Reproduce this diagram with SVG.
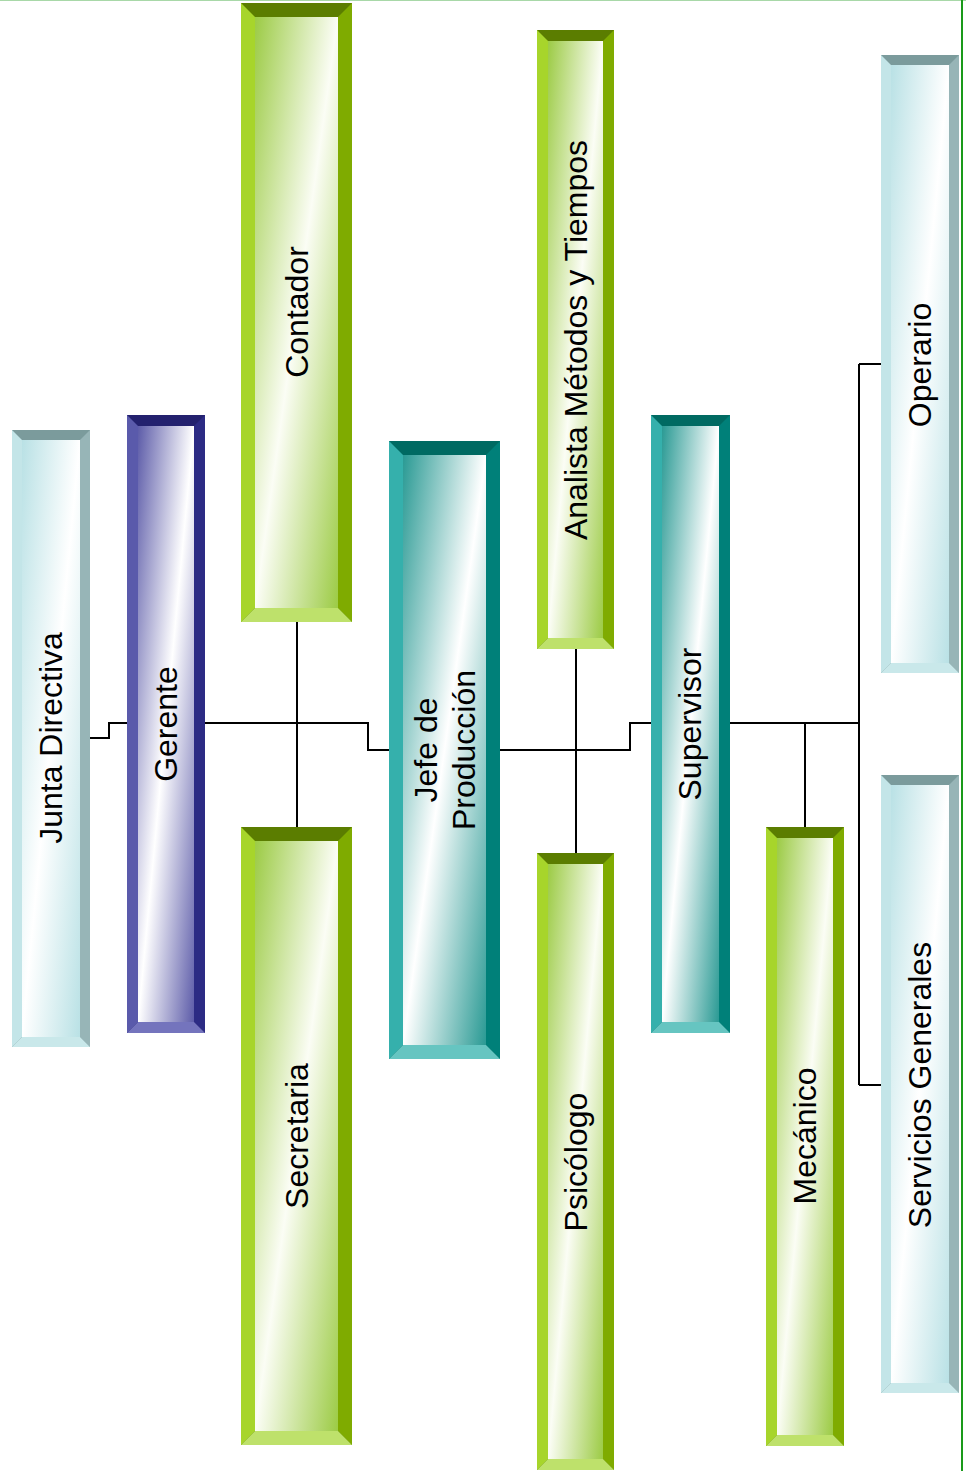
<svg xmlns="http://www.w3.org/2000/svg" width="966" height="1471" viewBox="0 0 966 1471">
  <style>
    .lbl { font-family: "Liberation Sans", Arial, sans-serif; font-size: 32px; fill: #000; text-anchor: middle; }
    .wire { fill: none; stroke: #000; stroke-width: 2; }
    /* pale cyan boxes */
    .c .tp { fill: #7b9b9c; } .c .lf { fill: #c3e5e8; } .c .rt { fill: #97b5b7; } .c .bt { fill: #c9e8ea; } .c .in { fill: url(#gCyan); }
    /* navy box */
    .n .tp { fill: #23216e; } .n .lf { fill: #5a5aab; } .n .rt { fill: #2c2b84; } .n .bt { fill: #7474bd; } .n .in { fill: url(#gNavy); }
    /* teal boxes */
    .t .tp { fill: #006a62; } .t .lf { fill: #35b0ac; } .t .rt { fill: #008079; } .t .bt { fill: #66c5c1; } .t .in { fill: url(#gTeal); }
    /* green boxes */
    .g .tp { fill: #5b7d00; } .g .lf { fill: #a7d52b; } .g .rt { fill: #7fab00; } .g .bt { fill: #bee16b; } .g .in { fill: url(#gGreen); }
  </style>
  <defs>
    <linearGradient id="gCyan" x1="0" y1="0" x2="1" y2="1">
      <stop offset="0" stop-color="#b9e1e5"/><stop offset="0.5" stop-color="#ffffff"/><stop offset="1" stop-color="#b9e1e5"/>
    </linearGradient>
    <linearGradient id="gNavy" x1="0" y1="0" x2="1" y2="1">
      <stop offset="0" stop-color="#5d5ca9"/><stop offset="0.5" stop-color="#ffffff"/><stop offset="1" stop-color="#5d5ca9"/>
    </linearGradient>
    <linearGradient id="gTeal" x1="0" y1="0" x2="1" y2="1">
      <stop offset="0" stop-color="#2a9a94"/><stop offset="0.5" stop-color="#ffffff"/><stop offset="1" stop-color="#2a9a94"/>
    </linearGradient>
    <linearGradient id="gGreen" x1="0" y1="0" x2="1" y2="1">
      <stop offset="0" stop-color="#9ccb45"/><stop offset="0.5" stop-color="#fbfdf5"/><stop offset="1" stop-color="#9ccb45"/>
    </linearGradient>
  </defs>

  <rect width="966" height="1471" fill="#ffffff"/>
  <!-- page frame -->
  <line x1="0" y1="0.5" x2="966" y2="0.5" stroke="#a8d8a8" stroke-width="1"/>
  <line x1="962" y1="0" x2="962" y2="1471" stroke="#1a9a1a" stroke-width="2"/>

  <!-- connectors -->
  <g id="connectors" class="wire">
    <path d="M90,738 H109 V723 H127"/>
    <path d="M205,723 H368 V750 H389"/>
    <path d="M297,622 V827"/>
    <path d="M500,750 H630 V723 H651"/>
    <path d="M576,649 V853"/>
    <path d="M730,723 H859"/>
    <path d="M805,723 V827"/>
    <path d="M859,364 V1085"/>
    <path d="M859,364 H881"/>
    <path d="M859,1085 H881"/>
  </g>

  <g id="junta-directiva" class="c">
    <rect class="tp" x="12" y="430" width="78" height="617"/>
    <polygon class="lf" points="12,430 22,440 22,1037 12,1047"/>
    <polygon class="rt" points="90,430 80,440 80,1037 90,1047"/>
    <polygon class="bt" points="12,1047 22,1037 80,1037 90,1047"/>
    <rect class="in" x="22" y="440" width="58" height="597"/>
    <text class="lbl" transform="translate(62,738) rotate(-90)">Junta Directiva</text>
  </g>

  <g id="gerente" class="n">
    <rect class="tp" x="127" y="415" width="78" height="618"/>
    <polygon class="lf" points="127,415 138,426 138,1022 127,1033"/>
    <polygon class="rt" points="205,415 194,426 194,1022 205,1033"/>
    <polygon class="bt" points="127,1033 138,1022 194,1022 205,1033"/>
    <rect class="in" x="138" y="426" width="56" height="596"/>
    <text class="lbl" transform="translate(177,724) rotate(-90)">Gerente</text>
  </g>

  <g id="contador" class="g">
    <rect class="tp" x="241" y="3" width="111" height="619"/>
    <polygon class="lf" points="241,3 255,17 255,608 241,622"/>
    <polygon class="rt" points="352,3 338,17 338,608 352,622"/>
    <polygon class="bt" points="241,622 255,608 338,608 352,622"/>
    <rect class="in" x="255" y="17" width="83" height="591"/>
    <text class="lbl" transform="translate(308,312) rotate(-90)">Contador</text>
  </g>

  <g id="secretaria" class="g">
    <rect class="tp" x="241" y="827" width="111" height="618"/>
    <polygon class="lf" points="241,827 255,841 255,1431 241,1445"/>
    <polygon class="rt" points="352,827 338,841 338,1431 352,1445"/>
    <polygon class="bt" points="241,1445 255,1431 338,1431 352,1445"/>
    <rect class="in" x="255" y="841" width="83" height="590"/>
    <text class="lbl" transform="translate(308,1136) rotate(-90)">Secretaria</text>
  </g>

  <g id="jefe-produccion" class="t">
    <rect class="tp" x="389" y="441" width="111" height="618"/>
    <polygon class="lf" points="389,441 403,455 403,1045 389,1059"/>
    <polygon class="rt" points="500,441 486,455 486,1045 500,1059"/>
    <polygon class="bt" points="389,1059 403,1045 486,1045 500,1059"/>
    <rect class="in" x="403" y="455" width="83" height="590"/>
    <text class="lbl" transform="translate(437,750) rotate(-90)">Jefe de</text>
    <text class="lbl" transform="translate(475,750) rotate(-90)">Producción</text>
  </g>

  <g id="analista" class="g">
    <rect class="tp" x="537" y="30" width="77" height="619"/>
    <polygon class="lf" points="537,30 548,41 548,638 537,649"/>
    <polygon class="rt" points="614,30 603,41 603,638 614,649"/>
    <polygon class="bt" points="537,649 548,638 603,638 614,649"/>
    <rect class="in" x="548" y="41" width="55" height="597"/>
    <text class="lbl" transform="translate(587,340) rotate(-90)">Analista Métodos y Tiempos</text>
  </g>

  <g id="psicologo" class="g">
    <rect class="tp" x="537" y="853" width="77" height="617"/>
    <polygon class="lf" points="537,853 548,864 548,1459 537,1470"/>
    <polygon class="rt" points="614,853 603,864 603,1459 614,1470"/>
    <polygon class="bt" points="537,1470 548,1459 603,1459 614,1470"/>
    <rect class="in" x="548" y="864" width="55" height="595"/>
    <text class="lbl" transform="translate(587,1162) rotate(-90)">Psicólogo</text>
  </g>

  <g id="supervisor" class="t">
    <rect class="tp" x="651" y="415" width="79" height="618"/>
    <polygon class="lf" points="651,415 662,426 662,1022 651,1033"/>
    <polygon class="rt" points="730,415 719,426 719,1022 730,1033"/>
    <polygon class="bt" points="651,1033 662,1022 719,1022 730,1033"/>
    <rect class="in" x="662" y="426" width="57" height="596"/>
    <text class="lbl" transform="translate(701,724) rotate(-90)">Supervisor</text>
  </g>

  <g id="mecanico" class="g">
    <rect class="tp" x="766" y="827" width="78" height="619"/>
    <polygon class="lf" points="766,827 777,838 777,1435 766,1446"/>
    <polygon class="rt" points="844,827 833,838 833,1435 844,1446"/>
    <polygon class="bt" points="766,1446 777,1435 833,1435 844,1446"/>
    <rect class="in" x="777" y="838" width="56" height="597"/>
    <text class="lbl" transform="translate(816,1136) rotate(-90)">Mecánico</text>
  </g>

  <g id="operario" class="c">
    <rect class="tp" x="881" y="55" width="78" height="618"/>
    <polygon class="lf" points="881,55 891,65 891,663 881,673"/>
    <polygon class="rt" points="959,55 949,65 949,663 959,673"/>
    <polygon class="bt" points="881,673 891,663 949,663 959,673"/>
    <rect class="in" x="891" y="65" width="58" height="598"/>
    <text class="lbl" transform="translate(931,365) rotate(-90)">Operario</text>
  </g>

  <g id="servicios-generales" class="c">
    <rect class="tp" x="881" y="775" width="78" height="618"/>
    <polygon class="lf" points="881,775 891,785 891,1383 881,1393"/>
    <polygon class="rt" points="959,775 949,785 949,1383 959,1393"/>
    <polygon class="bt" points="881,1393 891,1383 949,1383 959,1393"/>
    <rect class="in" x="891" y="785" width="58" height="598"/>
    <text class="lbl" transform="translate(931,1085) rotate(-90)">Servicios Generales</text>
  </g>
</svg>
